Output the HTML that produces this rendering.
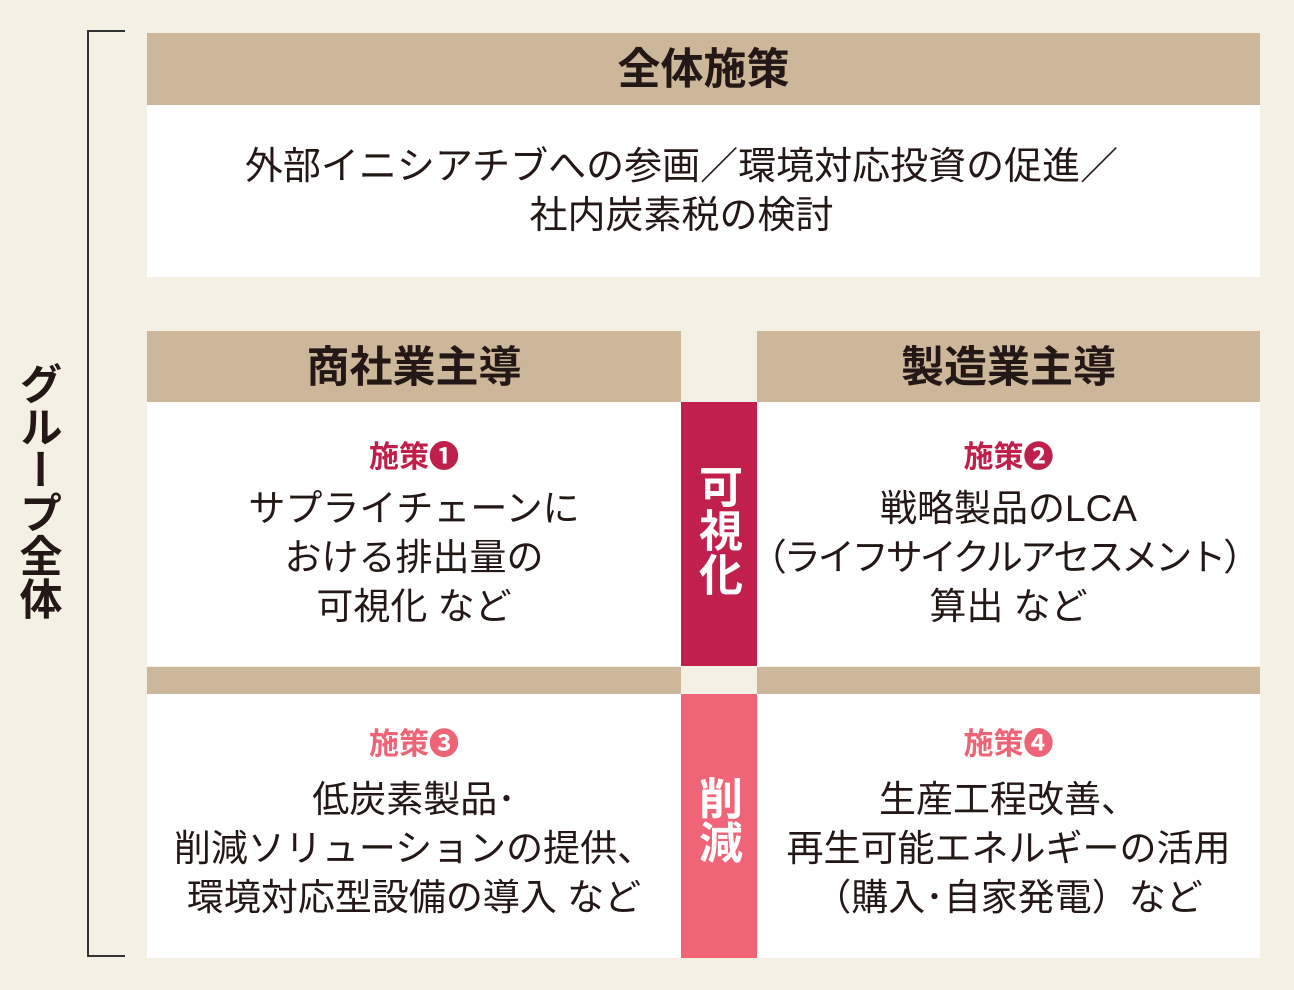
<!DOCTYPE html>
<html><head><meta charset="utf-8"><style>
body{margin:0;width:1294px;height:990px;background:#f4f0e4;position:relative;overflow:hidden;font-family:"Liberation Sans","Noto Sans CJK JP",sans-serif;color:#231815}
.a{position:absolute}
.tan{background:#cdb79b}
.w{background:#fff}
.h{font-weight:bold;font-size:43px;text-align:center;line-height:74px}
.t{font-size:37px;line-height:49px;text-align:center;white-space:nowrap}
.lab{font-weight:bold;font-size:30px;line-height:40px;text-align:center;margin-bottom:6px}
.vert{writing-mode:vertical-rl;font-weight:bold;color:#fff;font-size:44px;letter-spacing:0px}
</style></head><body>
<div class="a" style="left:87px;top:30px;width:38px;height:927px;border:2px solid #333;border-right:none;box-sizing:border-box"></div>
<div class="a vert" style="left:6px;top:362px;color:#231815;font-size:43px">グループ全体</div>

<div class="a tan h" style="left:147px;top:33px;width:1113px;height:72px">全体施策</div>
<div class="a w" style="left:147px;top:105px;width:1113px;height:172px;padding-top:38px;box-sizing:border-box"><div class="t" style="font-size:38px;margin-right:44px">外部イニシアチブへの参画／環境対応投資の促進／<br>社内炭素税の検討</div></div>

<div class="a tan h" style="left:147px;top:331px;width:534px;height:71px">商社業主導</div>
<div class="a tan h" style="left:757px;top:331px;width:503px;height:71px">製造業主導</div>

<div class="a w" style="left:147px;top:402px;width:534px;height:264px;text-align:center;padding-top:36px;box-sizing:border-box"><div class="lab" style="color:#be1f4b">施策❶</div><div class="t">サプライチェーンに<br>おける排出量の<br>可視化 など</div></div>
<div class="a w" style="left:757px;top:402px;width:503px;height:264px;text-align:center;padding-top:36px;box-sizing:border-box"><div class="lab" style="color:#be1f4b">施策❷</div><div class="t">戦略製品のLCA<br><span style="letter-spacing:-3px;margin-left:-10px">（ライフサイクルアセスメント）</span><br>算出 など</div></div>

<div class="a" style="left:681px;top:402px;width:76px;height:264px;background:#c0204b"></div>
<div class="a vert" style="left:684px;top:464px">可視化</div>

<div class="a tan" style="left:147px;top:667px;width:534px;height:27px"></div>
<div class="a tan" style="left:757px;top:667px;width:503px;height:27px"></div>

<div class="a w" style="left:147px;top:694px;width:534px;height:264px;text-align:center;padding-top:31px;box-sizing:border-box"><div class="lab" style="color:#ee6477;margin-bottom:10px">施策❸</div><div class="t">低炭素製品･<br>削減ソリューションの提供、<br>環境対応型設備の導入 など</div></div>
<div class="a w" style="left:757px;top:694px;width:503px;height:264px;text-align:center;padding-top:31px;box-sizing:border-box"><div class="lab" style="color:#ee6477;margin-bottom:10px">施策❹</div><div class="t">生産工程改善、<br>再生可能エネルギーの活用<br>（購入･自家発電）など</div></div>

<div class="a" style="left:681px;top:694px;width:76px;height:264px;background:#ef6477"></div>
<div class="a vert" style="left:684px;top:776px">削減</div>
</body></html>
